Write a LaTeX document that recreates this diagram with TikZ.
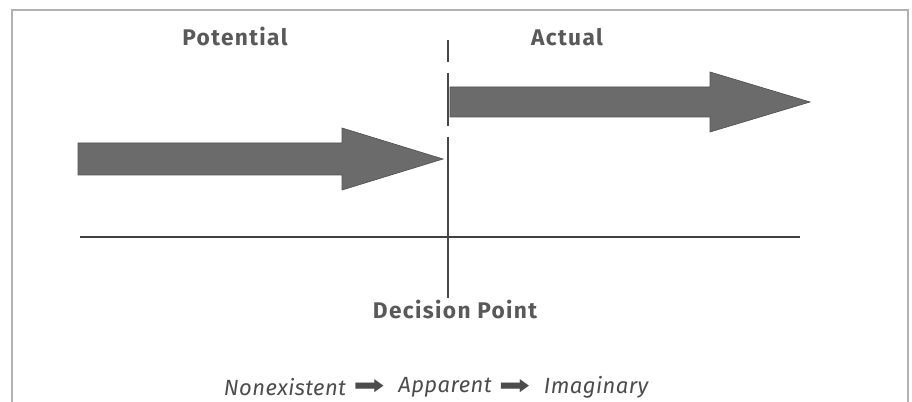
\documentclass[tikz,border=0pt]{standalone}
\usepackage{fontspec}
\setmainfont{Fira Sans}
\newfontfamily\headfont[LetterSpace=6]{Fira Sans}
\newfontfamily\notefont[LetterSpace=2]{Fira Sans}
\newfontfamily\dingfont{DejaVu Sans}
\usetikzlibrary{positioning}

\begin{document}
\begin{tikzpicture}[
    x=0.75pt, y=-0.75pt,
    frame/.style={draw=black!30, line width=1.5pt},
    blockarrow/.style={fill=black!58, draw=black!68, line width=0.5pt},
    divider/.style={draw=black!72, line width=2pt,
        dash pattern=on 16.5pt off 8pt on 40pt off 8pt on 130pt},
    timeline/.style={draw=black!75, line width=2pt},
    heading/.style={font=\headfont\fontsize{17}{20}\selectfont\bfseries, text=black!65, inner sep=0pt},
    chainnote/.style={font=\notefont\fontsize{16.5}{19}\selectfont\itshape, text=black!70, inner sep=0pt},
    chainsym/.style={font=\dingfont\fontsize{20}{22}\selectfont, text=black!70, inner sep=0pt}
]
\useasboundingbox (0,0) rectangle (912,402);

% frame, open at the bottom
\draw[frame] (12,402) -- (12,10) -- (908,10) -- (908,402);

% the two block arrows
\filldraw[blockarrow] (78,143) -- (342,143) -- (342,128) -- (443,159)
    -- (342,190) -- (342,175) -- (78,175) -- cycle;
\filldraw[blockarrow] (450,87) -- (710,87) -- (710,72) -- (810,102)
    -- (710,132) -- (710,117) -- (450,117) -- cycle;

% decision line and time line
\coordinate (divtop) at (448,40);
\coordinate (divbot) at (448,298);
\coordinate (lineleft) at (80,237);
\coordinate (lineright) at (800,237);
\draw[divider] (divtop) -- (divbot);
\draw[timeline] (lineleft) -- (lineright);

% labels
\node[heading] (potential) at (235,37) {Potential};
\node[heading] (actual) at (567,37) {Actual};
\node[heading] (decision) at (455,310) {Decision Point};

\node[chainnote] (apparent) at (445,387) {Apparent};
\node[chainsym, left=10pt of apparent] (arrowa) {\scalebox{1.4}[1]{➡}};
\node[chainnote, left=5pt of arrowa] (nonexistent) {Nonexistent};
\node[chainsym, right=5pt of apparent] (arrowb) {\scalebox{1.4}[1]{➡}};
\node[chainnote, right=10pt of arrowb] (imaginary) {Imaginary};

\end{tikzpicture}
\end{document}
